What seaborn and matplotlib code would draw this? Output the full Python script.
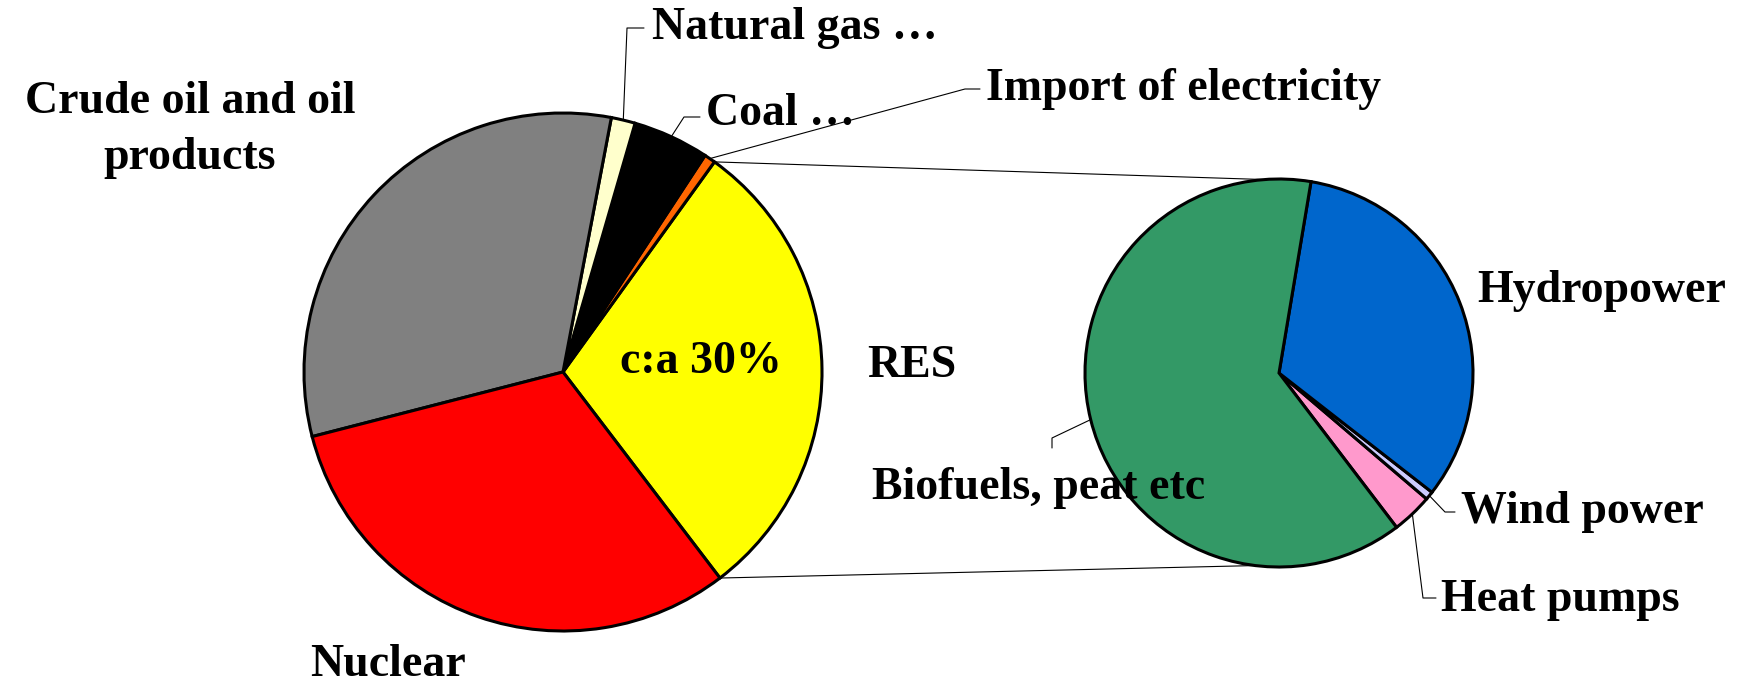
import numpy as np
import matplotlib
matplotlib.use("Agg")
import matplotlib.pyplot as plt
import seaborn as sns

# main pie, counter-clockwise starting at the RES / Nuclear edge (%)
main_labels = ['RES', 'Import of electricity', 'Coal …', 'Natural gas …',
               'Crude oil and oil\nproducts', 'Nuclear']
main_values = [29.7, 0.7, 4.75, 1.5, 32.0, 31.35]
main_colors = ['#FFFF00', '#FF6600', '#000000', '#FFFFCC', '#808080', '#FF0000']

# secondary pie: what the RES slice is made of (%)
res_labels = ['Heat pumps', 'Wind power', 'Hydropower', 'Biofuels, peat etc']
res_values = [3.4, 0.7, 32.9, 63.0]
res_colors = ['#FF99CC', '#CCCCFF', '#0066CC', '#339966']

res_note = 'c:a 30%'

sns.set_theme(style="white")
plt.rcParams['font.family'] = ['Liberation Serif', 'DejaVu Serif']
plt.rcParams['font.weight'] = 'bold'
plt.rcParams['text.color'] = 'black'

W, H = 1738, 685
fig = plt.figure(figsize=(W / 100, H / 100), dpi=100)
ax = fig.add_axes([0, 0, 1, 1])

c1, r1 = (563, 313), 259
c2, r2 = (1279, 312), 194
start = -52.7

wprops = dict(edgecolor='black', linewidth=2.2)
w1, _ = ax.pie(main_values, colors=main_colors, startangle=start, center=c1,
               radius=r1, wedgeprops=wprops, frame=True)
w2, _ = ax.pie(res_values, colors=res_colors, startangle=start, center=c2,
               radius=r2, wedgeprops=wprops, frame=True)
ax.set_xlim(0, W)
ax.set_ylim(0, H)
ax.set_aspect('equal')
ax.axis('off')


def pt(c, r, ang):
    a = np.deg2rad(ang)
    return c[0] + r * np.cos(a), c[1] + r * np.sin(a)


def mid(w):
    return (w.theta1 + w.theta2) / 2


# connector lines between the RES slice and the secondary pie
p_top = pt(c1, r1, w1[0].theta2)
p_bot = pt(c1, r1, w1[0].theta1)
q_top = pt(c2, r2, 82)
q_bot = pt(c2, r2, -97)
ax.plot([p_top[0], q_top[0]], [p_top[1], q_top[1]], color='black', lw=0.8, zorder=0)
ax.plot([p_bot[0], q_bot[0]], [p_bot[1], q_bot[1]], color='black', lw=0.8, zorder=0)

# leader lines: anchor at slice edge, then elbow(s)
leaders = [
    (pt(c1, r1, mid(w1[3])), [(627, 657), (644, 657)]),
    (pt(c1, r1, mid(w1[2])), [(684, 568), (700, 568)]),
    (pt(c1, r1, mid(w1[1])), [(965, 596), (980, 596)]),
    (pt(c2, r2, mid(w2[3])), [(1052, 247), (1052, 237)]),
    (pt(c2, r2, mid(w2[1])), [(1445, 173), (1455, 173)]),
    (pt(c2, r2, mid(w2[0])), [(1423, 87), (1436, 87)]),
]
for a, rest in leaders:
    xs = [a[0]] + [p[0] for p in rest]
    ys = [a[1]] + [p[1] for p in rest]
    ax.plot(xs, ys, color='black', lw=0.8, zorder=0)

fs = 33
tkw = dict(fontsize=fs, fontweight='bold', color='black', va='center')

ax.text(190, 555, main_labels[4], ha='center', linespacing=1.45, **tkw)
ax.text(652, 657, main_labels[3], ha='left', **tkw)
ax.text(706, 571, main_labels[2], ha='left', **tkw)
ax.text(986, 596, main_labels[1], ha='left', **tkw)
ax.text(867, 319, main_labels[0], ha='left', **tkw)
ax.text(310, 20, main_labels[5], ha='left', **tkw)
ax.text(701, 323, res_note, ha='center', **tkw)

ax.text(1477, 394, res_labels[2], ha='left', **tkw)
ax.text(872, 197, res_labels[3], ha='left', **tkw)
ax.text(1461, 173, res_labels[1], ha='left', **tkw)
ax.text(1441, 85, res_labels[0], ha='left', **tkw)

fig.savefig('out.png', dpi=100, facecolor='white')
